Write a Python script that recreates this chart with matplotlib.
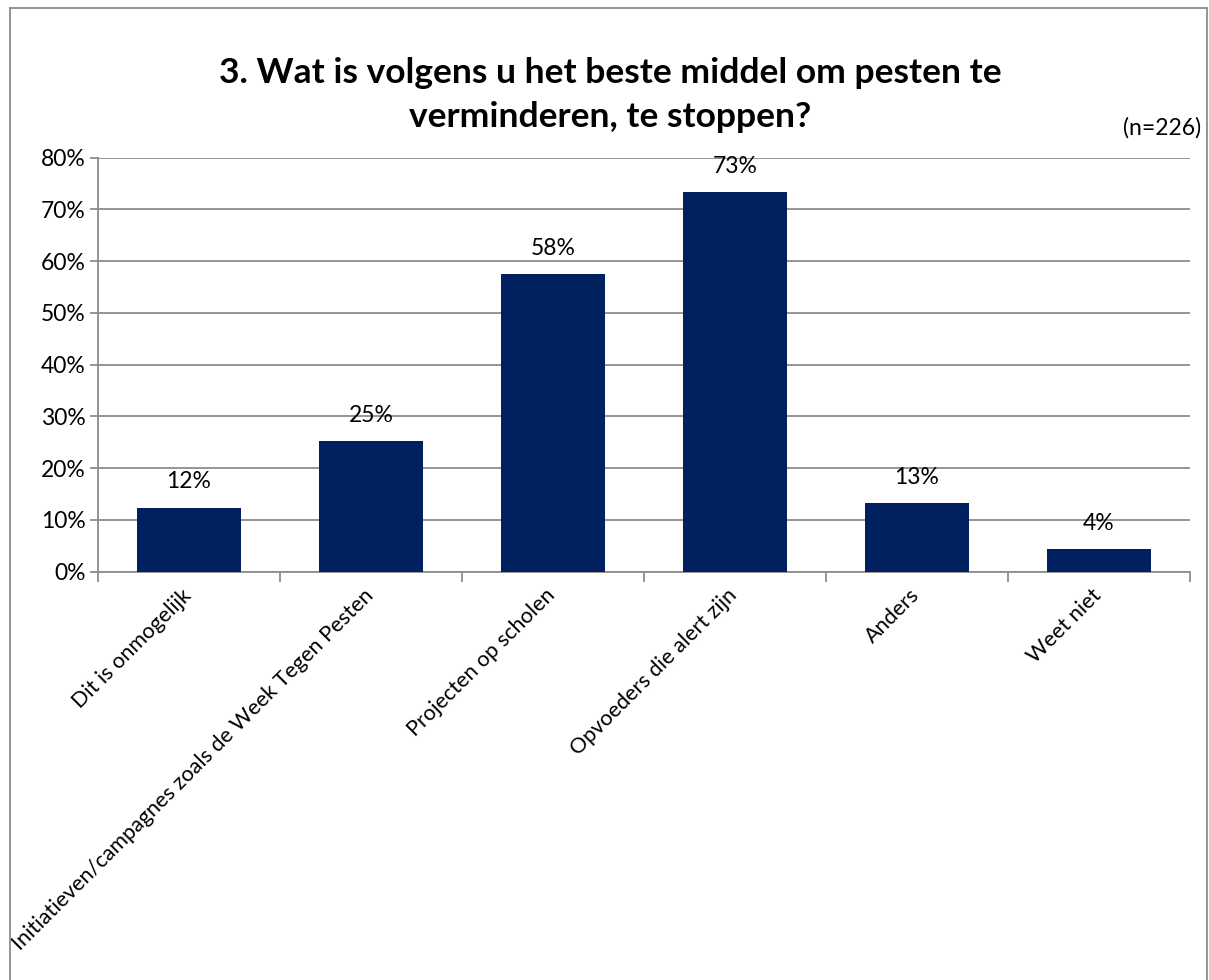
import matplotlib.pyplot as plt
from matplotlib.lines import Line2D
from matplotlib.transforms import ScaledTranslation
import numpy as np

plt.rcParams['font.family'] = ['Lato', 'DejaVu Sans']

# data
categories = ['Dit is onmogelijk',
              'Initiatieven/campagnes zoals de Week Tegen Pesten',
              'Projecten op scholen',
              'Opvoeders die alert zijn',
              'Anders',
              'Weet niet']
values = [12.4, 25.2, 57.5, 73.3, 13.2, 4.4]
value_labels = ['12%', '25%', '58%', '73%', '13%', '4%']
y_ticks = [0, 10, 20, 30, 40, 50, 60, 70, 80]
title = '3. Wat is volgens u het beste middel om pesten te\nverminderen, te stoppen?'
note = '(n=226)'

W, H = 1209, 980
fig = plt.figure(figsize=(W / 100, H / 100), dpi=100)
ax = fig.add_axes([98 / W, 1 - 571.7 / H, (1190 - 98) / W, (571.7 - 157.7) / H])

grid_col = '#8c8c8c'
fs = 16.5
x = np.arange(len(categories))
ax.bar(x, values, width=0.57, color='#00205F', zorder=3)

for xi, v, lab in zip(x, values, value_labels):
    ax.text(xi, v + 5.0, lab, ha='center', va='center', fontsize=fs, zorder=4)

ax.set_xlim(-0.5, len(categories) - 0.5)
ax.set_ylim(0, 80)
ax.set_yticks(y_ticks)
ax.set_yticklabels([f'{t}%' for t in y_ticks], fontsize=fs)
ax.yaxis.grid(True, color=grid_col, linewidth=1.3, zorder=0)
ax.tick_params(axis='y', length=6, width=1.3, color=grid_col, pad=3)

# category labels at centres, tick marks at the boundaries
ax.set_xticks(x)
ax.set_xticklabels(categories, rotation=45, ha='right', rotation_mode='anchor', fontsize=15.6)
ax.tick_params(axis='x', which='major', length=0, pad=12)
ax.set_xticks(np.arange(-0.5, len(categories)), minor=True)
ax.tick_params(axis='x', which='minor', length=7, width=1.3, color=grid_col)
shift = ScaledTranslation(-8 / 100, 3 / 100, fig.dpi_scale_trans)
for lbl in ax.get_xticklabels():
    lbl.set_transform(lbl.get_transform() + shift)

for s in ['top', 'right']:
    ax.spines[s].set_visible(False)
for s in ['left', 'bottom']:
    ax.spines[s].set_color(grid_col)
    ax.spines[s].set_linewidth(1.3)

fig.text(610 / W, 1 - 95 / H, title, ha='center', va='center', fontsize=25.5,
         fontweight='bold', linespacing=1.45)
fig.text(1201 / W, 1 - 128 / H, note, ha='right', va='center', fontsize=fs)

# outer chart border
bx0, bx1, by0 = 10 / W, 1207 / W, 1 - 8 / H
for xs, ys in [([bx0, bx0], [0, by0]), ([bx0, bx1], [by0, by0]), ([bx1, bx1], [by0, 0])]:
    fig.add_artist(Line2D(xs, ys, color=grid_col, linewidth=1.3))

fig.savefig('out.png', dpi=100)
